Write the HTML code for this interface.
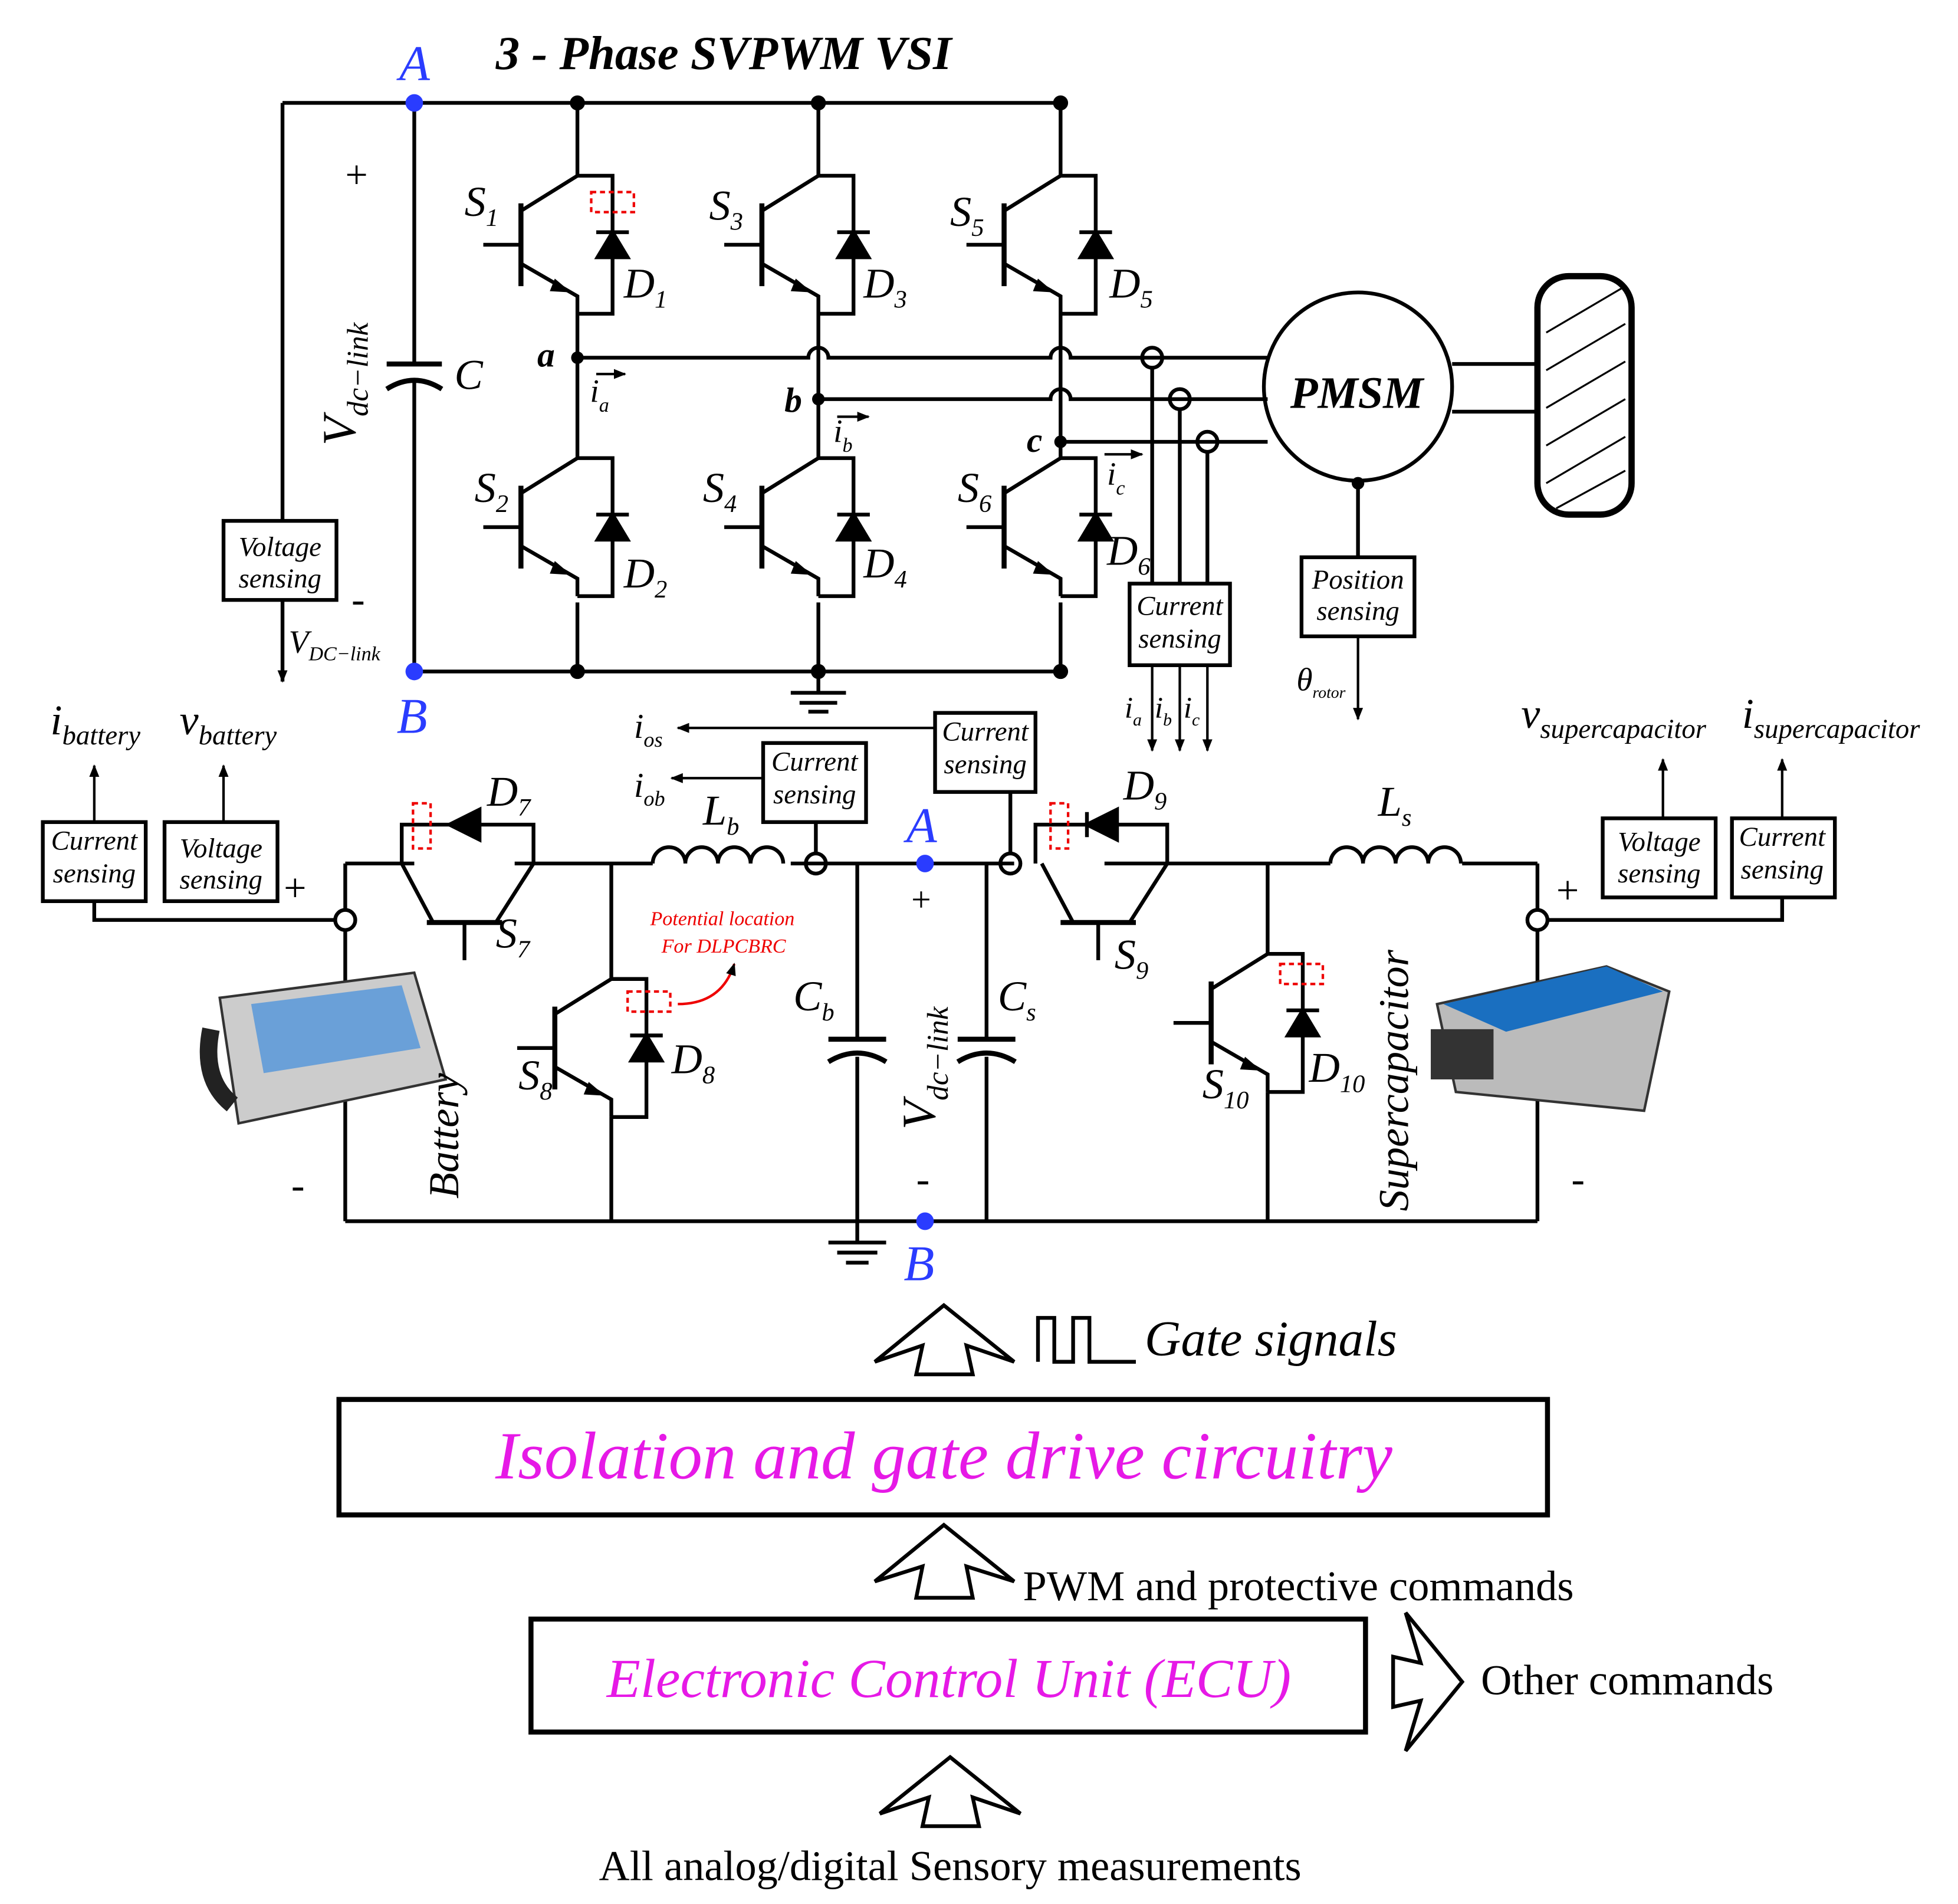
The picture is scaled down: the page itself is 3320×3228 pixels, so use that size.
<!DOCTYPE html>
<html><head><meta charset="utf-8"><style>
html,body{margin:0;padding:0;background:#fff}
svg{display:block}
text{font-family:"Liberation Serif",serif}
</style></head><body>
<svg width="3320" height="3228" viewBox="0 0 1560 1517" xmlns="http://www.w3.org/2000/svg">
<defs>
<marker id="ar" markerWidth="10" markerHeight="10" refX="9" refY="5" orient="auto" markerUnits="userSpaceOnUse"><path d="M0,1 L10,5 L0,9 Z" fill="#000"/></marker>
<g id="sw" fill="none" stroke="#000" stroke-width="3">
  <path d="M0,0 L-45,28"/>
  <path d="M-45,22 V88" stroke-width="4"/>
  <path d="M-45,55 H-75"/>
  <path d="M-45,70 L0,96 V110"/>
  <path d="M0,0 H28 V110 H0"/>
  <path d="M16,65 H40 L28,45 Z" fill="#000"/>
  <path d="M15,45 H41"/>
  <path d="M-18,82 L-5,93 L-22,92 Z" fill="#000" stroke="none"/>
</g>
</defs>
<g fill="none" stroke="#000" stroke-width="3">
<path d="M225,82 H845"/>
<path d="M330,535 H845"/>
<path d="M225,82 V415"/>
<path d="M225,478 V543" marker-end="url(#ar)"/>
<path d="M330,82 V290 M330,305 V535"/>
<path d="M308,290 H352" stroke-width="4"/>
<path d="M308,310 Q330,296 352,310" stroke-width="4"/>
<path d="M460,82 V140 M460,250 V365 M460,480 V535"/>
<path d="M652,82 V140 M652,250 V365 M652,480 V535"/>
<path d="M845,82 V140 M845,250 V365 M845,480 V535"/>
<path d="M652,535 V552"/><path d="M630,552 H674 M637,560 H667 M644,567 H660"/>
<path d="M460,285 H644 a8,8 0 0 1 16,0 H837 a8,8 0 0 1 16,0 H1010"/>
<path d="M652,318 H837 a8,8 0 0 1 16,0 H1010"/>
<path d="M845,352 H1010"/>
<path d="M475,298 H498" marker-end="url(#ar)" stroke-width="2"/>
<path d="M667,332 H692" marker-end="url(#ar)" stroke-width="2"/>
<path d="M880,362 H910" marker-end="url(#ar)" stroke-width="2"/>
<circle cx="918" cy="285" r="8"/><circle cx="940" cy="318" r="8"/><circle cx="962" cy="352" r="8"/>
<path d="M918,293 V465 M940,326 V465 M962,360 V465"/>
<path d="M918,530 V598" marker-end="url(#ar)" stroke-width="2"/>
<path d="M940,530 V598" marker-end="url(#ar)" stroke-width="2"/>
<path d="M962,530 V598" marker-end="url(#ar)" stroke-width="2"/>
<rect x="900" y="465" width="80" height="65"/>
<circle cx="1082" cy="308" r="75"/>
<path d="M1157,290 H1225 M1157,328 H1225"/>
<rect x="1225" y="220" width="75" height="190" rx="25" stroke-width="5"/>
<path d="M1082,385 V444"/>
<rect x="1037" y="444" width="90" height="63"/>
<path d="M1082,507 V573" marker-end="url(#ar)" stroke-width="2"/>
<rect x="178" y="415" width="90" height="63"/>
<path d="M275,688 H330 M410,688 H520 M630,688 H808 M880,688 H1060 M1165,688 H1225"/>
<path d="M275,973 H1225"/>
<path d="M275,688 V725 M275,741 V973"/>
<path d="M1225,688 V725 M1225,741 V973"/>
<circle cx="275" cy="733" r="8"/><circle cx="1225" cy="733" r="8"/>
<path d="M267,733 H75 V718"/><path d="M1233,733 H1420 V715"/>
<path d="M520,688 a13,13 0 0 1 26,0 a13,13 0 0 1 26,0 a13,13 0 0 1 26,0 a13,13 0 0 1 26,0" />
<path d="M1060,688 a13,13 0 0 1 26,0 a13,13 0 0 1 26,0 a13,13 0 0 1 26,0 a13,13 0 0 1 26,0"/>
<circle cx="650" cy="688" r="8"/><circle cx="805" cy="688" r="8"/>
<path d="M650,680 V640 H690 M805,680 V600 H745"/>
<path d="M608,620 H535" marker-end="url(#ar)" stroke-width="2"/>
<path d="M745,580 H540" marker-end="url(#ar)" stroke-width="2"/>
<rect x="608" y="592" width="82" height="63" fill="#fff"/>
<rect x="745" y="568" width="80" height="63" fill="#fff"/>
<path d="M320,688 V657 H425 V688"/>
<path d="M380,647 V667" stroke-width="3"/>
<path d="M358,657 L382,645 V669 Z" fill="#000"/>
<path d="M320,688 L345,735 M425,688 L395,735"/>
<path d="M340,735 H400" stroke-width="4"/>
<path d="M370,735 V765"/>
<path d="M825,688 V657 H930 V688"/>
<path d="M866,647 V667"/>
<path d="M866,657 L890,645 V669 Z" fill="#000"/>
<path d="M830,688 L855,735 M930,688 L900,735"/>
<path d="M845,735 H905" stroke-width="4"/>
<path d="M875,735 V765"/>
<path d="M487,688 V780 M487,890 V973"/>
<path d="M683,688 V828 M683,842 V990 M786,688 V828 M786,842 V973"/>
<path d="M660,828 H706 M763,828 H809" stroke-width="4"/>
<path d="M660,846 Q683,832 706,846 M763,846 Q786,832 809,846" stroke-width="4"/>
<path d="M660,990 H706 M667,998 H699 M674,1006 H692"/>
<path d="M1010,688 V760 M1010,870 V973"/>
<rect x="34" y="655" width="82" height="63"/>
<rect x="131" y="655" width="90" height="63"/>
<rect x="1277" y="652" width="90" height="63"/>
<rect x="1380" y="652" width="82" height="63"/>
<path d="M75,655 V610" marker-end="url(#ar)" stroke-width="2"/>
<path d="M178,655 V610" marker-end="url(#ar)" stroke-width="2"/>
<path d="M1325,652 V605" marker-end="url(#ar)" stroke-width="2"/>
<path d="M1420,652 V605" marker-end="url(#ar)" stroke-width="2"/>
<path d="M540,800 Q575,800 585,768" stroke="#e00" stroke-width="2" marker-end="url(#ar)"/>
<rect x="270" y="1115" width="963" height="92" stroke-width="4"/>
<rect x="423" y="1290" width="665" height="90" stroke-width="4"/>
<path d="M827,1085 V1050 H840 V1085 H855 V1050 H868 V1085 H905"/>
</g>
<use href="#sw" x="460" y="140"/><use href="#sw" x="460" y="365"/>
<use href="#sw" x="652" y="140"/><use href="#sw" x="652" y="365"/>
<use href="#sw" x="845" y="140"/><use href="#sw" x="845" y="365"/>
<use href="#sw" x="487" y="780"/><use href="#sw" x="1010" y="760"/>
<g fill="none" stroke="#e00" stroke-width="2" stroke-dasharray="4,3">
<rect x="471" y="153" width="34" height="16"/><rect x="329" y="640" width="14" height="36"/><rect x="500" y="790" width="34" height="16"/><rect x="837" y="640" width="14" height="36"/><rect x="1020" y="768" width="34" height="16"/>
</g>
<g fill="#000"><circle cx="460" cy="82" r="6"/><circle cx="652" cy="82" r="6"/><circle cx="845" cy="82" r="6"/><circle cx="460" cy="535" r="6"/><circle cx="652" cy="535" r="6"/><circle cx="845" cy="535" r="6"/><circle cx="460" cy="285" r="5"/><circle cx="652" cy="318" r="5"/><circle cx="845" cy="352" r="5"/><circle cx="1082" cy="385" r="5"/></g>
<g fill="#2a3cff"><circle cx="330" cy="82" r="7"/><circle cx="330" cy="535" r="7"/><circle cx="737" cy="688" r="7"/><circle cx="737" cy="973" r="7"/></g>
<g stroke="#000" stroke-width="1.5"><path d="M1232,265 L1295,228 M1232,295 L1295,258 M1232,325 L1295,288 M1232,355 L1295,318 M1232,385 L1295,348 M1240,405 L1295,375"/></g>
<g><path d="M175,795 L330,775 L355,860 L190,895 Z" fill="#ccc" stroke="#333" stroke-width="2"/>
<path d="M200,800 L320,785 L335,835 L210,855 Z" fill="#6aa0d8"/>
<path d="M168,820 Q160,860 185,880" fill="none" stroke="#222" stroke-width="14"/>
<path d="M1145,800 L1280,770 L1330,790 L1310,885 L1160,870 Z" fill="#bbb" stroke="#333" stroke-width="2"/>
<path d="M1150,800 L1280,770 L1325,790 L1200,822 Z" fill="#1a6fc0"/>
<rect x="1140" y="820" width="50" height="40" fill="#333"/></g>
<g fill="#fff" stroke="#000" stroke-width="3">
<polygon points="752,1040 808,1085 770,1072 775,1095 730,1095 735,1072 697,1085"/>
<polygon points="752,1215 808,1260 770,1248 775,1273 730,1273 735,1248 697,1260"/>
<polygon points="757,1400 813,1445 775,1432 780,1455 735,1455 740,1432 701,1445"/>
<polygon points="1165,1340 1120,1395 1132,1355 1110,1360 1110,1320 1132,1325 1120,1285"/>
</g>
<text x="395" y="55" font-weight="bold" font-size="38" font-style="italic">3 - Phase SVPWM VSI</text>
<g font-size="40" font-style="italic" fill="#2a3cff">
<text x="318" y="64">A</text>
<text x="316" y="584">B</text>
<text x="722" y="671">A</text>
<text x="720" y="1020">B</text>
</g>
<g font-style="italic" font-size="34">
<text x="370" y="172">S<tspan font-size="20" dy="8">1</tspan></text>
<text x="565" y="175">S<tspan font-size="20" dy="8">3</tspan></text>
<text x="757" y="180">S<tspan font-size="20" dy="8">5</tspan></text>
<text x="378" y="400">S<tspan font-size="20" dy="8">2</tspan></text>
<text x="560" y="400">S<tspan font-size="20" dy="8">4</tspan></text>
<text x="763" y="400">S<tspan font-size="20" dy="8">6</tspan></text>
<text x="497" y="237">D<tspan font-size="20" dy="8">1</tspan></text>
<text x="688" y="237">D<tspan font-size="20" dy="8">3</tspan></text>
<text x="884" y="237">D<tspan font-size="20" dy="8">5</tspan></text>
<text x="497" y="468">D<tspan font-size="20" dy="8">2</tspan></text>
<text x="688" y="460">D<tspan font-size="20" dy="8">4</tspan></text>
<text x="882" y="450">D<tspan font-size="20" dy="8">6</tspan></text>
<text x="362" y="310">C</text>
<text x="428" y="292" font-weight="bold" font-size="28">a</text>
<text x="625" y="328" font-weight="bold" font-size="28">b</text>
<text x="818" y="360" font-weight="bold" font-size="28">c</text>
<text x="470" y="320" font-size="26">i<tspan font-size="16" dy="8">a</tspan></text>
<text x="664" y="352" font-size="26">i<tspan font-size="16" dy="8">b</tspan></text>
<text x="882" y="386" font-size="26">i<tspan font-size="16" dy="8">c</tspan></text>
<text x="1028" y="325" font-weight="bold" font-size="36">PMSM</text>
<text x="230" y="520" font-size="26">V<tspan font-size="16" dy="6">DC−link</tspan></text>
<text x="1033" y="550" font-size="26">θ<tspan font-size="13" dy="6">rotor</tspan></text>
<text x="896" y="572" font-size="24">i<tspan font-size="14" dy="6">a</tspan></text>
<text x="920" y="572" font-size="24">i<tspan font-size="14" dy="6">b</tspan></text>
<text x="943" y="572" font-size="24">i<tspan font-size="14" dy="6">c</tspan></text>
<text transform="translate(283,355) rotate(-90)" font-size="38">V<tspan font-size="24" dy="10">dc−link</tspan></text>
<text transform="translate(745,900) rotate(-90)" font-size="38">V<tspan font-size="24" dy="10">dc−link</tspan></text>
<text transform="translate(365,955) rotate(-90)" font-size="34">Battery</text>
<text transform="translate(1122,965) rotate(-90)" font-size="34">Supercapacitor</text>
<text x="40" y="585">i<tspan font-size="22" dy="8">battery</tspan></text>
<text x="143" y="585">v<tspan font-size="22" dy="8">battery</tspan></text>
<text x="1212" y="580">v<tspan font-size="22" dy="8">supercapacitor</tspan></text>
<text x="1388" y="580">i<tspan font-size="22" dy="8">supercapacitor</tspan></text>
<text x="505" y="588" font-size="28">i<tspan font-size="17" dy="7">os</tspan></text>
<text x="505" y="635" font-size="28">i<tspan font-size="17" dy="7">ob</tspan></text>
<text x="560" y="657">L<tspan font-size="20" dy="8">b</tspan></text>
<text x="1098" y="650">L<tspan font-size="20" dy="8">s</tspan></text>
<text x="388" y="642">D<tspan font-size="20" dy="8">7</tspan></text>
<text x="895" y="637">D<tspan font-size="20" dy="8">9</tspan></text>
<text x="395" y="755">S<tspan font-size="20" dy="8">7</tspan></text>
<text x="888" y="772">S<tspan font-size="20" dy="8">9</tspan></text>
<text x="413" y="868">S<tspan font-size="20" dy="8">8</tspan></text>
<text x="535" y="855">D<tspan font-size="20" dy="8">8</tspan></text>
<text x="958" y="875">S<tspan font-size="20" dy="8">10</tspan></text>
<text x="1043" y="862">D<tspan font-size="20" dy="8">10</tspan></text>
<text x="632" y="805">C<tspan font-size="20" dy="8">b</tspan></text>
<text x="795" y="805">C<tspan font-size="20" dy="8">s</tspan></text>
<text x="518" y="737" font-size="16" fill="#e00">Potential location</text>
<text x="527" y="759" font-size="16" fill="#e00">For DLPCBRC</text>
</g>
<g font-style="italic" font-size="22" text-anchor="middle">
<text x="223" y="443">Voltage</text><text x="223" y="468">sensing</text>
<text x="940" y="490">Current</text><text x="940" y="516">sensing</text>
<text x="1082" y="469">Position</text><text x="1082" y="494">sensing</text>
<text x="649" y="614">Current</text><text x="649" y="640">sensing</text>
<text x="785" y="590">Current</text><text x="785" y="616">sensing</text>
<text x="75" y="677">Current</text><text x="75" y="703">sensing</text>
<text x="176" y="683">Voltage</text><text x="176" y="708">sensing</text>
<text x="1322" y="678">Voltage</text><text x="1322" y="703">sensing</text>
<text x="1420" y="674">Current</text><text x="1420" y="700">sensing</text>
</g>
<g font-size="32">
<text x="275" y="150">+</text><text x="280" y="488">-</text>
<text x="226" y="718">+</text><text x="232" y="955">-</text>
<text x="726" y="726" font-size="28">+</text><text x="730" y="950">-</text>
<text x="1240" y="720">+</text><text x="1252" y="950">-</text>
</g>
<text x="912" y="1080" font-style="italic" font-size="40">Gate signals</text>
<text x="752" y="1178" font-style="italic" font-size="54" fill="#e619e6" text-anchor="middle">Isolation and gate drive circuitry</text>
<text x="756" y="1352" font-style="italic" font-size="44" fill="#e619e6" text-anchor="middle">Electronic Control Unit (ECU)</text>
<text x="815" y="1275" font-size="34">PWM and protective commands</text>
<text x="1180" y="1350" font-size="34">Other commands</text>
<text x="757" y="1498" font-size="34" text-anchor="middle">All analog/digital Sensory measurements</text>
</svg>
</body></html>
